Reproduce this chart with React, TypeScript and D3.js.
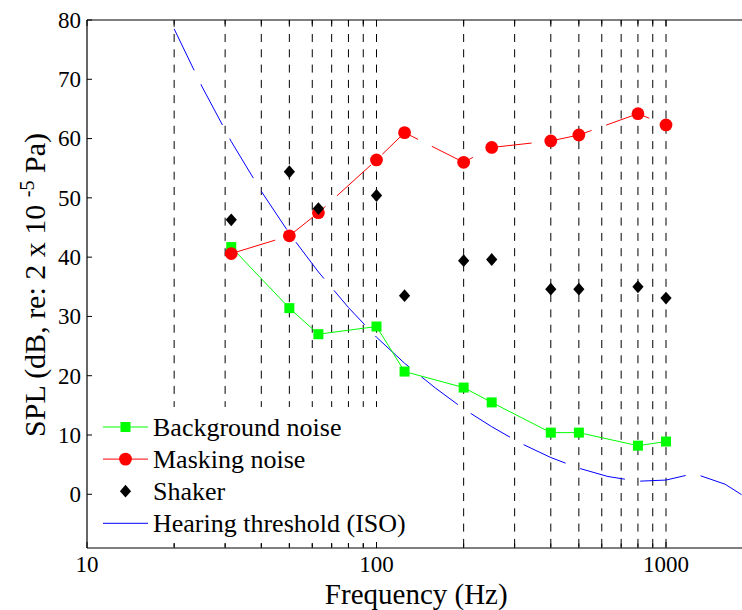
import React from "react";
import * as d3 from "d3";

const freqs = [31.5, 50, 63, 100, 125, 200, 250, 400, 500, 800, 1000];
const backgroundNoise = [41.7, 31.4, 27.0, 28.3, 20.7, 18.0, 15.5, 10.4, 10.4, 8.2, 8.9];
const maskingNoise = [40.6, 43.6, 47.5, 56.4, 61.0, 56.0, 58.5, 59.6, 60.6, 64.2, 62.3];
const shaker = [46.3, 54.4, 48.2, 50.4, 33.5, 39.4, 39.6, 34.6, 34.6, 35.0, 33.1];

const isoFreqs = [20, 25, 31.5, 40, 50, 63, 80, 100, 125, 160, 200, 250, 315, 400, 500, 630, 800, 1000, 1250, 1600, 2000];
const isoThreshold = [78.5, 68.7, 59.5, 51.1, 44.0, 37.5, 31.5, 26.5, 22.1, 17.9, 14.4, 11.4, 8.6, 6.2, 4.4, 3.0, 2.2, 2.4, 3.5, 1.7, -1.3];

const gridFreqs = [20, 30, 40, 50, 60, 70, 80, 90, 100, 200, 300, 400, 500, 600, 700, 800, 900, 1000];
const xMajorTicks = [10, 100, 1000];
const xMinorTicks = [20, 30, 40, 50, 60, 70, 80, 90, 200, 300, 400, 500, 600, 700, 800, 900];
const yTicks = [0, 10, 20, 30, 40, 50, 60, 70, 80];

const legendLabels = ["Background noise", "Masking noise", "Shaker", "Hearing threshold (ISO)"];

const W = 742;
const H = 610;
const L = 87;
const R = 741.5;
const T = 20;
const B = 548;

const FONT = '"Liberation Serif", "Times New Roman", Times, serif';
const txt = { fontFamily: FONT };

export default function App() {
  const x = d3.scaleLog().domain([10, 1823]).range([L, R]);
  const y = d3.scaleLinear().domain([-9.06, 80]).range([B, T]);

  const line = d3
    .line<[number, number]>()
    .x((d) => x(d[0]))
    .y((d) => y(d[1]));

  const bgPts: [number, number][] = freqs.map((f, i) => [f, backgroundNoise[i]]);
  const mkPts: [number, number][] = freqs.map((f, i) => [f, maskingNoise[i]]);
  const shPts: [number, number][] = freqs.map((f, i) => [f, shaker[i]]);
  const isoPts: [number, number][] = isoFreqs.map((f, i) => [f, isoThreshold[i]]);

  const dw = 5.6;
  const dh = 6.4;
  const diamond = `M0,${-dh}L${dw},0L0,${dh}L${-dw},0Z`;

  const legendX0 = 103;
  const legendX1 = 148;
  const legendTextX = 153;
  const legendY0 = 427;
  const legendDy = 32.1;
  const fmt = (v: number) => String(v);

  return (
    <svg
      width={W}
      height={H}
      style={{ position: "absolute", left: 0, top: 0, background: "#fff", fontFamily: FONT }}
    >
      <defs>
        <clipPath id="plotclip">
          <rect x={L} y={T} width={R - L} height={B - T} />
        </clipPath>
      </defs>
      <rect x={0} y={0} width={W} height={H} fill="#fff" />

      {/* grid */}
      <g>
        {gridFreqs.map((f) => (
          <line
            key={f}
            x1={x(f)}
            x2={x(f)}
            y1={T}
            y2={B}
            stroke="#000"
            strokeWidth={1}
            strokeDasharray="8 7.3"
            strokeDashoffset={1.3}
          />
        ))}
      </g>

      <g clipPath="url(#plotclip)">
        <path d={line(isoPts) || ""} fill="none" stroke="#0000ff" strokeWidth={1} strokeDasharray="46 15.5" />
        <path d={line(bgPts) || ""} fill="none" stroke="#00ff00" strokeWidth={1} />
        <path d={line(mkPts) || ""} fill="none" stroke="#ff0000" strokeWidth={1} strokeDasharray="46 15.5" />
        {bgPts.map((p, i) => (
          <rect key={"b" + i} x={x(p[0]) - 5} y={y(p[1]) - 5} width={10} height={10} fill="#00ff00" />
        ))}
        {mkPts.map((p, i) => (
          <circle key={"m" + i} cx={x(p[0])} cy={y(p[1])} r={6.4} fill="#ff0000" />
        ))}
        {shPts.map((p, i) => (
          <path key={"s" + i} d={diamond} transform={`translate(${x(p[0])},${y(p[1])})`} fill="#000" />
        ))}
      </g>

      {/* legend */}
      <rect x={92} y={407} width={318} height={136} fill="#fff" />
      {legendLabels.map((lab, i) => {
        const ly = legendY0 + i * legendDy;
        const colors = ["#00ff00", "#ff0000", "none", "#0000ff"];
        const cx = (legendX0 + legendX1) / 2;
        return (
          <g key={lab}>
            {colors[i] !== "none" && (
              <line x1={legendX0} x2={legendX1} y1={ly} y2={ly} stroke={colors[i]} strokeWidth={1} />
            )}
            {i === 0 && <rect x={cx - 5} y={ly - 5} width={10} height={10} fill="#00ff00" />}
            {i === 1 && <circle cx={cx} cy={ly} r={6.4} fill="#ff0000" />}
            {i === 2 && <path d={diamond} transform={`translate(${cx},${ly})`} fill="#000" />}
            <text x={legendTextX} y={ly + 8.8} fontSize={26} fill="#000" style={txt}>
              {lab}
            </text>
          </g>
        );
      })}

      {/* axes */}
      <g stroke="#000" strokeWidth={1.2} fill="none">
        <line x1={L} x2={R + 2} y1={B} y2={B} />
        <line x1={L} x2={R + 2} y1={T} y2={T} />
        <line x1={L} x2={L} y1={T} y2={B} />
      </g>
      <g stroke="#000" strokeWidth={1}>
        {xMajorTicks.map((f) => (
          <g key={"M" + f}>
            <line x1={x(f)} x2={x(f)} y1={B} y2={B - 6} />
            <line x1={x(f)} x2={x(f)} y1={T} y2={T + 6} />
          </g>
        ))}
        {xMinorTicks.map((f) => (
          <g key={"m" + f}>
            <line x1={x(f)} x2={x(f)} y1={B} y2={B - 4.5} />
            <line x1={x(f)} x2={x(f)} y1={T} y2={T + 4.5} />
          </g>
        ))}
        {yTicks.map((v) => (
          <line key={"y" + v} x1={L} x2={L + 5} y1={y(v)} y2={y(v)} />
        ))}
      </g>
      <g fontSize={23} fill="#000">
        {xMajorTicks.map((f) => (
          <text key={"xl" + f} x={x(f)} y={572} textAnchor="middle" style={txt}>
            {fmt(f)}
          </text>
        ))}
        {yTicks.map((v) => (
          <text key={"yl" + v} x={81} y={y(v) + 7.8} textAnchor="end" style={txt}>
            {fmt(v)}
          </text>
        ))}
      </g>
      <text x={(L + R) / 2 + 2} y={604} textAnchor="middle" fontSize={29} fill="#000" style={txt}>
        Frequency (Hz)
      </text>
      <text
        transform={`translate(45,${(T + B) / 2 + 1}) rotate(-90)`}
        textAnchor="middle"
        fontSize={30}
        fill="#000"
        style={txt}
      >
        SPL (dB, re: 2 x 10 <tspan fontSize={20} dy={-11}>-5</tspan>
        <tspan dy={11}> Pa)</tspan>
      </text>
    </svg>
  );
}
